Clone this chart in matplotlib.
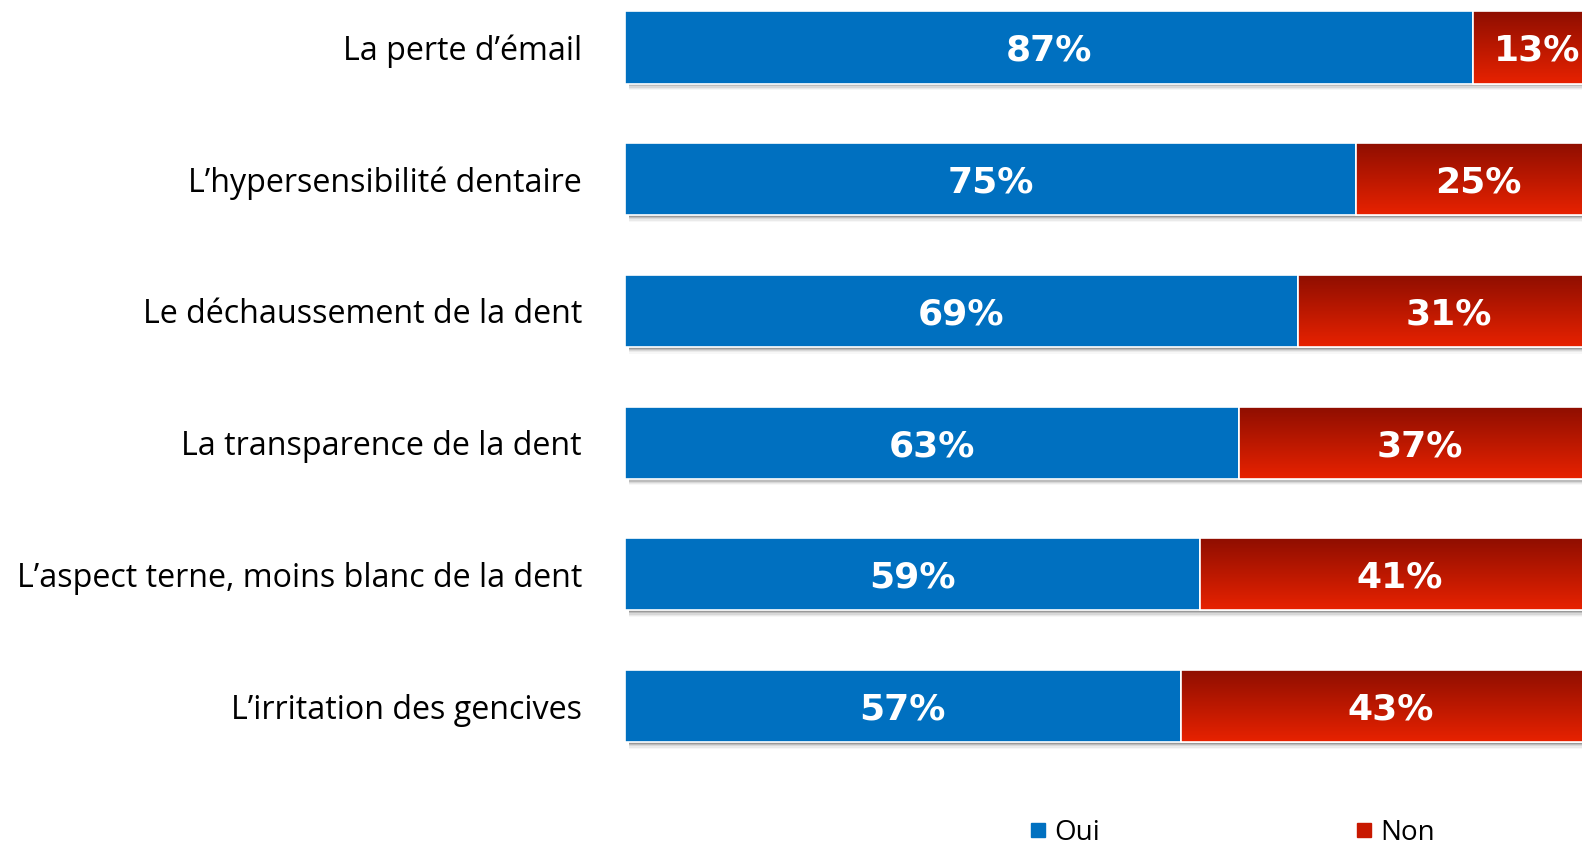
import numpy as np
import matplotlib
matplotlib.use("Agg")
from matplotlib import pyplot as plt
from matplotlib.colors import LinearSegmentedColormap
from matplotlib.lines import Line2D
from matplotlib.patches import Rectangle

# data
categories = [
    "La perte d\u2019émail",
    "L\u2019hypersensibilité dentaire",
    "Le déchaussement de la dent",
    "La transparence de la dent",
    "L\u2019aspect terne, moins blanc de la dent",
    "L\u2019irritation des gencives",
]
oui = [87, 75, 69, 63, 59, 57]
non = [13, 25, 31, 37, 41, 43]
series_names = ["Oui", "Non"]

blue = "#0070C0"
red_top = "#8E0E00"
red_bottom = "#E82200"
red_cmap = LinearSegmentedColormap.from_list("red_grad", [red_bottom, red_top])

W, H = 1582, 850
fig = plt.figure(figsize=(W / 100, H / 100), dpi=100)
ax = fig.add_axes([625 / W, 0.0919, 1 - 625 / W, 0.908])

n = len(categories)
y = np.arange(n)[::-1]
h = 0.547

# soft shadow under each bar
for yi in y:
    for k, a in enumerate([0.18, 0.12, 0.08, 0.05, 0.03]):
        off = 0.012 + k * 0.01
        ax.add_patch(Rectangle((0.4, yi - h / 2 - off), 100, h, color="black",
                               alpha=a, lw=0, zorder=1))

bars_oui = ax.barh(y, oui, height=h, color=blue, edgecolor="white", linewidth=1.2, zorder=3)
bars_non = ax.barh(y, non, left=oui, height=h, color=red_bottom, edgecolor="white",
                   linewidth=1.2, zorder=3)

grad = np.linspace(0, 1, 256).reshape(-1, 1)
for b in bars_non:
    x0, y0, bw, bh = b.get_x(), b.get_y(), b.get_width(), b.get_height()
    im = ax.imshow(grad, cmap=red_cmap, origin="lower", aspect="auto",
                   extent=(x0, x0 + bw, y0, y0 + bh), zorder=4)
    im.set_clip_path(b)
    ax.add_patch(Rectangle((x0, y0), bw, bh, fill=False, edgecolor="white", lw=1.2, zorder=5))

for yi, o, nn in zip(y, oui, non):
    ax.text(o / 2, yi, f"{o}%", ha="center", va="center_baseline", color="white",
            fontsize=26, fontweight="bold", family="DejaVu Sans", zorder=6)
    ax.text(o + nn / 2, yi, f"{nn}%", ha="center", va="center_baseline", color="white",
            fontsize=26, fontweight="bold", family="DejaVu Sans", zorder=6)

ax.set_xlim(0, 100 * (W - 625) / 975)
ax.set_ylim(-0.5, 5.36)
ax.set_yticks(y)
ax.set_yticklabels(categories, fontsize=23.2, family="Open Sans")
ax.tick_params(axis="y", length=0, pad=31)
ax.set_xticks([])
for s in ax.spines.values():
    s.set_visible(False)

handles = [
    Line2D([], [], marker="s", linestyle="none", markersize=10, color=blue),
    Line2D([], [], marker="s", linestyle="none", markersize=10, color="#C81800"),
]
fig.legend(handles, series_names, loc="center", bbox_to_anchor=(0.779, 0.02), ncol=2,
           frameon=False, prop={"family": "Open Sans", "size": 20}, handlelength=0.6,
           handletextpad=0.3, columnspacing=9.2, borderpad=0.1)

fig.savefig("out.png", dpi=100)
